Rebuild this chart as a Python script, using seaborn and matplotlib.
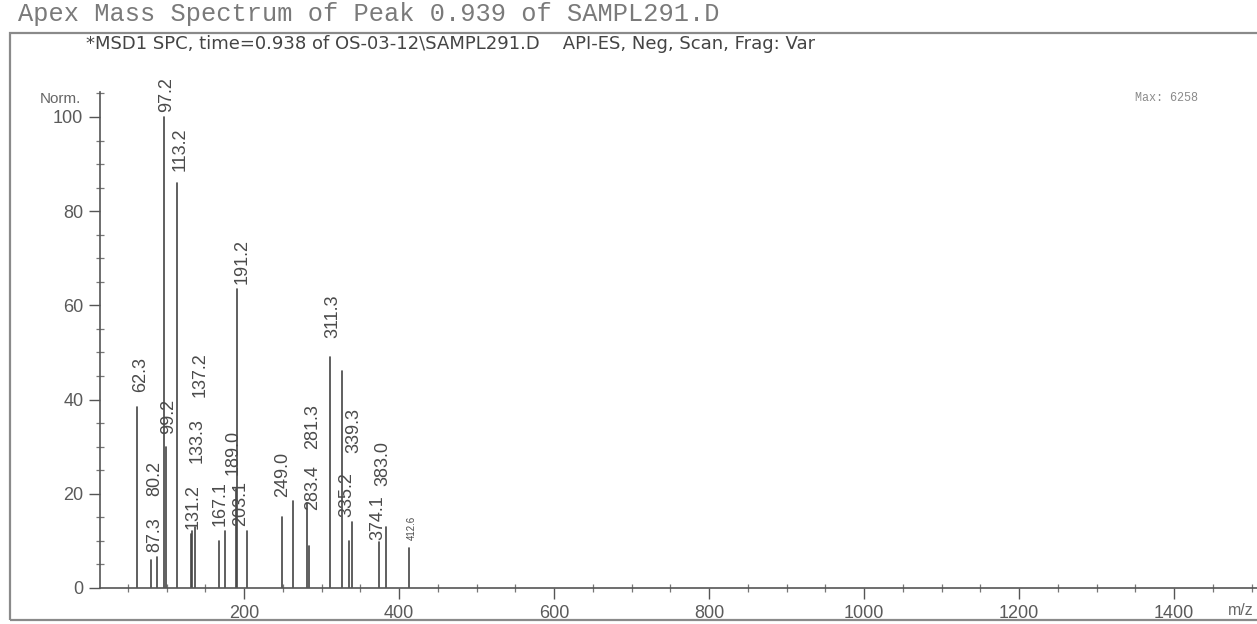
import numpy as np
import pandas as pd
import matplotlib
matplotlib.use("Agg")
import matplotlib.pyplot as plt
from matplotlib.patches import Rectangle
from matplotlib.ticker import MultipleLocator
import seaborn as sns

# ---------------- data ----------------
mz = [62.3, 80.2, 87.3, 97.2, 99.2, 113.2, 131.2, 133.3, 137.2, 167.1, 175.0,
      189.0, 191.2, 203.1, 249.0, 263.1, 281.3, 283.4, 311.3, 326.3, 335.2,
      339.3, 374.1, 383.0, 412.6]
intensity = [38.5, 6.0, 6.5, 100.0, 30.0, 86.0, 11.5, 12.0, 13.0, 10.0, 12.0,
             21.0, 63.5, 12.0, 15.0, 18.5, 18.0, 9.0, 49.0, 46.0, 10.0,
             14.0, 9.8, 13.0, 8.5]
peak_labels = ["62.3", "80.2", "87.3", "97.2", "99.2", "113.2", "131.2", "133.3",
               "137.2", "167.1", "", "189.0", "191.2", "203.1", "249.0", "", "281.3",
               "283.4", "311.3", "", "335.2", "339.3", "374.1", "383.0", "412.6"]
# where the (collision-shifted) labels sit: m/z and level
label_mz = [66, 85, 85, 99.5, 102, 117, 134, 139, 143, 169, None,
            186, 197, 195, 250, None, 288, 288, 315, None, 333,
            341, 372, 379, 417]
label_level = [41, 19, 7, 100.5, 32, 88, 12, 26, 40, 12.5, None,
               23.5, 64, 12.5, 18.7, None, 29, 16, 52.5, None, 14.5,
               28, 9.5, 21, 9.5]

x_ticks = [200, 400, 600, 800, 1000, 1200, 1400]
y_ticks = [0, 20, 40, 60, 80, 100]

title = "Apex Mass Spectrum of Peak 0.939 of SAMPL291.D"
subtitle = "*MSD1 SPC, time=0.938 of OS-03-12\\SAMPL291.D    API-ES, Neg, Scan, Frag: Var"
max_text = "Max: 6258"

# ---------------- styling ----------------
sns.set_theme(style="white")
plt.rcParams['font.family'] = ['Liberation Sans', 'DejaVu Sans']

W, H = 1257, 624
fig = plt.figure(figsize=(W / 100, H / 100), dpi=100)
ax = fig.add_axes([100 / W, 36 / H, (W - 100) / W, (588 - 92) / H])

# stick spectrum through seaborn
n = len(mz)
df = pd.DataFrame({
    "mz": np.repeat(mz, 2),
    "y": np.ravel(np.column_stack([np.zeros(n), intensity])),
    "peak": np.repeat(np.arange(n), 2),
})
sns.lineplot(data=df, x="mz", y="y", units="peak", estimator=None, sort=False,
             color="#444444", lw=1.2, legend=False, ax=ax)

ax.set_xlim(14, 1507)
ax.set_ylim(0, 105.3)
ax.set_xlabel("")
ax.set_ylabel("")

for s in ["top", "right"]:
    ax.spines[s].set_visible(False)
for s in ["left", "bottom"]:
    ax.spines[s].set_color("#555555")
    ax.spines[s].set_linewidth(1.2)

ax.set_xticks(x_ticks)
ax.set_yticks(y_ticks)
ax.xaxis.set_minor_locator(MultipleLocator(50))
ax.yaxis.set_minor_locator(MultipleLocator(5))
ax.tick_params(axis="both", which="major", direction="out", length=8, width=1,
               color="#555555", labelsize=13, labelcolor="#5a5a5a", pad=4,
               left=True, bottom=True)
ax.tick_params(axis="both", which="minor", direction="inout", length=6, width=0.9,
               color="#777777", left=True, bottom=True)

# peak labels
for lab, lx, lv in zip(peak_labels, label_mz, label_level):
    if not lab:
        continue
    fs = 7 if lab == "412.6" else 13
    ax.annotate(lab, xy=(lx, lv), xytext=(0, 2), textcoords="offset points",
                rotation=90, ha="center", va="bottom", fontsize=fs,
                color="#4a4a4a")

# figure texts
fig.text(18 / W, 1 - 21 / H, title, family="Liberation Mono", fontsize=18.3,
         color="#7a7a7a", ha="left", va="baseline")
fig.text(86 / W, 1 - 49 / H, subtitle, family="DejaVu Sans", fontsize=13,
         color="#444444", ha="left", va="baseline")
fig.text(1135 / W, 1 - 101 / H, max_text, family="Liberation Mono", fontsize=8.5,
         color="#8a8a8a", ha="left", va="baseline")
fig.text(40 / W, 1 - 103 / H, "Norm.", fontsize=11, color="#666666",
         ha="left", va="baseline")
fig.text(1228 / W, 1 - 615 / H, "m/z", fontsize=11.5, color="#666666",
         ha="left", va="baseline")

# outer frame
fig.add_artist(Rectangle((10 / W, 4 / H), (W + 20 - 10) / W, (591 - 4) / H,
                         transform=fig.transFigure, fill=False,
                         edgecolor="#8a8a8a", lw=1.6, clip_on=False))

fig.savefig("out.png", dpi=100)
